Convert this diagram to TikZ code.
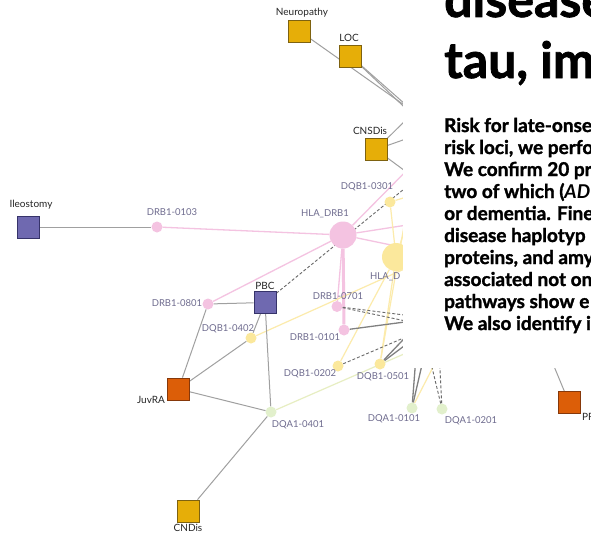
\documentclass[tikz,border=0pt]{standalone}
\usepackage{fontspec}
\setmainfont{Lato}
\newfontfamily\heavyfont{Lato}[BoldFeatures={FakeBold=1.5}]
\usetikzlibrary{positioning,backgrounds}
\definecolor{gold}{HTML}{E6AE08}
\definecolor{golddk}{HTML}{7E6210}
\definecolor{iris}{HTML}{6F69B0}
\definecolor{irisdk}{HTML}{36336A}
\definecolor{rust}{HTML}{DC5E08}
\definecolor{rustdk}{HTML}{86380A}
\definecolor{blush}{HTML}{F4C3E1}
\definecolor{butter}{HTML}{FBE89C}
\definecolor{sprout}{HTML}{E2F0CC}
\definecolor{edgegray}{HTML}{A0A0A0}
\definecolor{dashgray}{HTML}{6A6A6A}
\definecolor{allele}{HTML}{6F6C8F}
\tikzset{
  dis/.style={rectangle, line width=0.8pt, minimum size=22pt, inner sep=0pt},
  golddis/.style={dis, draw=golddk, fill=gold},
  irisdis/.style={dis, draw=irisdk, fill=iris},
  rustdis/.style={dis, draw=rustdk, fill=rust},
  allelept/.style={circle, inner sep=0pt, minimum size=11pt},
  drbpt/.style={allelept, fill=blush},
  dqbpt/.style={allelept, fill=butter},
  dqapt/.style={allelept, fill=sprout},
  dislbl/.style={font=\fontsize{10}{11}\selectfont, text=black!85, inner sep=0pt},
  alllbl/.style={font=\fontsize{9.5}{11}\selectfont, text=allele, inner sep=0pt},
  link/.style={draw=edgegray, line width=1pt},
  darklink/.style={draw=black!50, line width=1.3pt},
  dlink/.style={draw=dashgray, line width=0.9pt, dash pattern=on 3pt off 2pt},
  pinklink/.style={draw=blush, line width=1.3pt},
  yellink/.style={draw=butter!85!white, line width=1.2pt},
  greenlink/.style={draw=sprout!80!butter, line width=1.2pt},
  titletxt/.style={anchor=base west, inner sep=0pt, font=\heavyfont\fontsize{50}{61}\selectfont\bfseries},
  bodytxt/.style={anchor=base west, inner sep=0pt, font=\heavyfont\fontsize{19}{22}\selectfont\bfseries}
}
\begin{document}
\begin{tikzpicture}[x=1pt,y=-1pt]
  \useasboundingbox (0,0) rectangle (591,535);
  \node[golddis] (neuro) at (299.5,31) {};
  \node[golddis] (loc) at (350.5,56) {};
  \node[golddis] (cnsdis) at (376,149.5) {};
  \node[golddis] (cndis) at (188,511) {};
  \node[irisdis] (ileo) at (28,227) {};
  \node[irisdis] (pbc) at (265,302.5) {};
  \node[rustdis] (juvra) at (178.5,389) {};
  \node[rustdis] (pr) at (569,402.5) {};
  \node[drbpt] (drb0103) at (157,227) {};
  \node[drbpt, minimum size=27pt] (hladrb) at (343,235) {};
  \node[drbpt] (drb0801) at (208,304) {};
  \node[drbpt] (drb0701) at (337,306.5) {};
  \node[drbpt] (drb0101) at (344,330) {};
  \node[dqbpt] (dqb0301) at (390,202) {};
  \node[dqbpt, minimum size=28pt] (hladqb) at (396,257) {};
  \node[dqbpt] (dqb0402) at (251,338) {};
  \node[dqbpt] (dqb0202) at (338,366) {};
  \node[dqbpt] (dqb0501) at (380,364) {};
  \node[dqapt] (dqa0401) at (271,412) {};
  \node[dqapt] (dqa0101) at (412,408) {};
  \node[dqapt] (dqa0201) at (442,409) {};
  \coordinate (h1) at (414,112);
  \coordinate (h2) at (420,122);
  \coordinate (h3) at (420,134);
  \coordinate (h4) at (420,182);
  \coordinate (h5) at (420,157);
  \coordinate (h6) at (420,223);
  \coordinate (h7) at (420,251);
  \coordinate (h8) at (420,176);
  \coordinate (h9) at (420,193);
  \coordinate (h10) at (420,262);
  \coordinate (h11) at (420,248);
  \coordinate (h12) at (412,180);
  \coordinate (h13) at (420,320);
  \coordinate (h14) at (420,317);
  \coordinate (h15) at (420,324);
  \coordinate (h16) at (420,331);
  \coordinate (h17) at (420,322);
  \coordinate (h18) at (420,334);
  \coordinate (h19) at (420,347);
  \coordinate (h20) at (418,330);
  \coordinate (h21) at (430,330);
  \coordinate (h22) at (452,330);
  \coordinate (h23) at (423,330);
  \coordinate (h24) at (438,330);
  \coordinate (h25) at (539,330);

  \begin{scope}[on background layer]
    \fill[white] (0,0) rectangle (591,535);
    \foreach \a/\b in {drb0103/hladrb, hladrb/drb0801, hladrb/drb0701, hladrb/h5, hladrb/h6, hladrb/h7}
      \draw[pinklink] (\a) -- (\b);
    \draw[blush, line width=3pt] (hladrb) -- (drb0101);
    \foreach \a/\b in {dqb0301/hladqb, dqb0301/h9, hladqb/dqb0202, hladqb/dqb0501, hladqb/h11, dqb0402/h10, h12/dqb0501, h4/hladqb, dqa0101/h22}
      \draw[yellink] (\a) -- (\b);
    \draw[greenlink] (dqa0401) -- (h19);
    \foreach \a/\b in {ileo/drb0103, drb0801/pbc, drb0801/juvra, pbc/dqb0402, pbc/dqa0401, dqb0402/juvra, juvra/dqa0401, dqa0401/cndis, neuro/h1, loc/h1, loc/h2, cnsdis/h1, cnsdis/h3, cnsdis/h4, pr/h25}
      \draw[link] (\a) -- (\b);
    \foreach \a/\b in {drb0101/h13, dqb0501/h17, dqb0501/h18, dqa0101/h20, dqa0101/h21}
      \draw[darklink] (\a) -- (\b);
    \foreach \a/\b in {pbc/h8, drb0701/h14, drb0701/h15, dqb0202/h16, dqa0201/h23, dqa0201/h24}
      \draw[dlink] (\a) -- (\b);
  \end{scope}

  \node[dislbl] (neuro-l) at (302,13) {Neuropathy};
  \node[dislbl] (loc-l) at (349,38) {LOC};
  \node[dislbl] (cnsdis-l) at (370,131) {CNSDis};
  \node[dislbl] (ileo-l) at (31,205) {Ileostomy};
  \node[dislbl] (pbc-l) at (265,286) {PBC};
  \node[dislbl] (juvra-l) at (151,400) {JuvRA};
  \node[dislbl] (cndis-l) at (188,528) {CNDis};
  \node[dislbl, anchor=west] (pr-l) at (582,417) {PR};
  \node[alllbl] (drb0103-l) at (172,212) {DRB1-0103};
  \node[alllbl] (hladrb-l) at (325,214) {HLA\_DRB1};
  \node[alllbl] (dqb0301-l) at (367,187) {DQB1-0301};
  \node[alllbl, anchor=west] (hladqb-l) at (370,277) {HLA\_D};
  \node[alllbl] (drb0801-l) at (177,303) {DRB1-0801};
  \node[alllbl] (dqb0402-l) at (228,329) {DQB1-0402};
  \node[alllbl] (drb0701-l) at (338,296) {DRB1-0701};
  \node[alllbl] (drb0101-l) at (315,337) {DRB1-0101};
  \node[alllbl] (dqb0202-l) at (310,374) {DQB1-0202};
  \node[alllbl] (dqb0501-l) at (383,377) {DQB1-0501};
  \node[alllbl] (dqa0401-l) at (298,425) {DQA1-0401};
  \node[alllbl] (dqa0101-l) at (394,419) {DQA1-0101};
  \node[alllbl] (dqa0201-l) at (471,421) {DQA1-0201};

  \fill[white] (403,0) rectangle (591,368);
  \node[titletxt] (ttl1) at (444,17) {disease};
  \node[titletxt] (ttl2) at (444,78) {tau, im};
  \foreach \ln [count=\i from 0] in {{Risk for late-onse},{risk loci, we perfo},{We confirm 20 pr},{two of which (\textit{AD}},{or dementia. Fine},{disease haplotyp},{proteins, and amy},{associated not on},{pathways show e},{We also identify i}}
    \node[bodytxt] (abs\i) at (444,{132+22*\i}) {\ln};
\end{tikzpicture}
\end{document}
